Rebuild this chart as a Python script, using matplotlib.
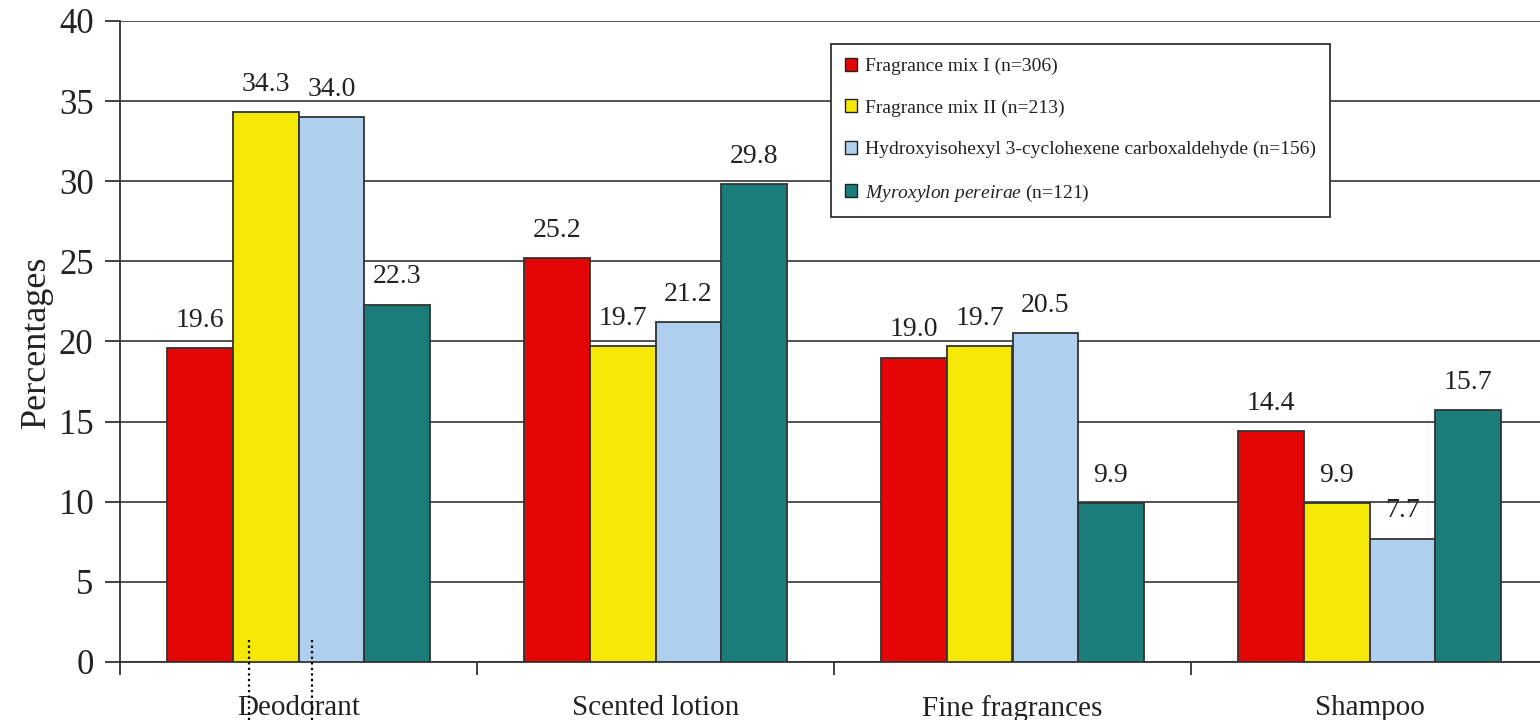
import matplotlib
matplotlib.use("Agg")
import matplotlib.pyplot as plt
import numpy as np
from matplotlib.lines import Line2D
from matplotlib.patches import Patch

plt.rcParams['font.family'] = ['Liberation Serif', 'DejaVu Serif']
plt.rcParams['mathtext.fontset'] = 'custom'
plt.rcParams['mathtext.rm'] = 'Liberation Serif'
plt.rcParams['mathtext.it'] = 'Liberation Serif:italic'

categories = ["Deodorant", "Scented lotion", "Fine fragrances", "Shampoo"]
series_names = [
    "Fragrance mix I (n=306)",
    "Fragrance mix II (n=213)",
    "Hydroxyisohexyl 3-cyclohexene carboxaldehyde (n=156)",
    r"$\mathit{Myroxylon\ pereirae}$ (n=121)",
]
fm1 = [19.6, 25.2, 19.0, 14.4]
fm2 = [34.3, 19.7, 19.7, 9.9]
hich = [34.0, 21.2, 20.5, 7.7]
myrox = [22.3, 29.8, 9.9, 15.7]
values = [fm1, fm2, hich, myrox]
colors = ["#E40605", "#F5E806", "#AFCFEE", "#1A7D79"]

W, H = 1540, 720
fig = plt.figure(figsize=(W / 100, H / 100), dpi=100)
ax = fig.add_axes([120 / W, 58 / H, 1428 / W, 641 / H])

edge = "#333333"
txt = "#222222"
bar_w = 0.1835
centers = np.arange(len(categories)) + 0.5
for i, (vals, col) in enumerate(zip(values, colors)):
    xs = centers + (i - 1.5) * bar_w
    ax.bar(xs, vals, width=bar_w, color=col, edgecolor=edge, linewidth=1.3, zorder=3)
    for x, v in zip(xs, vals):
        ax.annotate(f"{v:.1f}", (x, v), xytext=(0, 20), textcoords="offset points",
                    ha="center", va="center", fontsize=20, color=txt, zorder=4)

ax.set_xlim(0, 4)
ax.set_ylim(0, 40)
ax.set_yticks(np.arange(0, 41, 5))
ax.tick_params(axis="y", direction="out", length=11, width=1.3, color=edge,
               labelsize=25, labelcolor=txt, pad=8)
ax.yaxis.grid(True, color="#444444", linewidth=1.3, zorder=0)
ax.set_axisbelow(True)

ax.set_xticks(np.arange(0, 5))
ax.set_xticklabels([])
ax.set_xticks(centers, minor=True)
ax.set_xticklabels(categories, minor=True)
ax.tick_params(axis="x", which="major", direction="out", length=9, width=1.3, color=edge)
ax.tick_params(axis="x", which="minor", length=0, labelsize=21, labelcolor=txt, pad=24)

for s in ["top", "right"]:
    ax.spines[s].set_visible(False)
for s in ["left", "bottom"]:
    ax.spines[s].set_color(edge)
    ax.spines[s].set_linewidth(1.3)

ax.set_ylabel("Percentages", fontsize=26, color=txt, va="center")
ax.yaxis.set_label_coords(-84 / 1428, 0.5)

handles = [Patch(facecolor=c, edgecolor="#222222", linewidth=1.0) for c in colors]
leg = ax.legend(handles, series_names, loc="upper left",
                bbox_to_anchor=((831 - 120) / 1428, (662 - 44) / 641),
                fontsize=14, frameon=True, fancybox=False, framealpha=1,
                edgecolor="#333333", handlelength=0.65, handleheight=0.65,
                handletextpad=0.4, labelspacing=1.25, borderpad=0.7,
                borderaxespad=0)
leg.get_frame().set_linewidth(1.3)
for t in leg.get_texts():
    t.set_color(txt)

# dotted guide marks below the first group
for xp in (249, 312):
    fig.add_artist(Line2D([xp / W, xp / W], [0, 83 / H], color="black",
                          linestyle=(0, (1, 1.5)), linewidth=1.6))

fig.savefig("out.png", dpi=100)
